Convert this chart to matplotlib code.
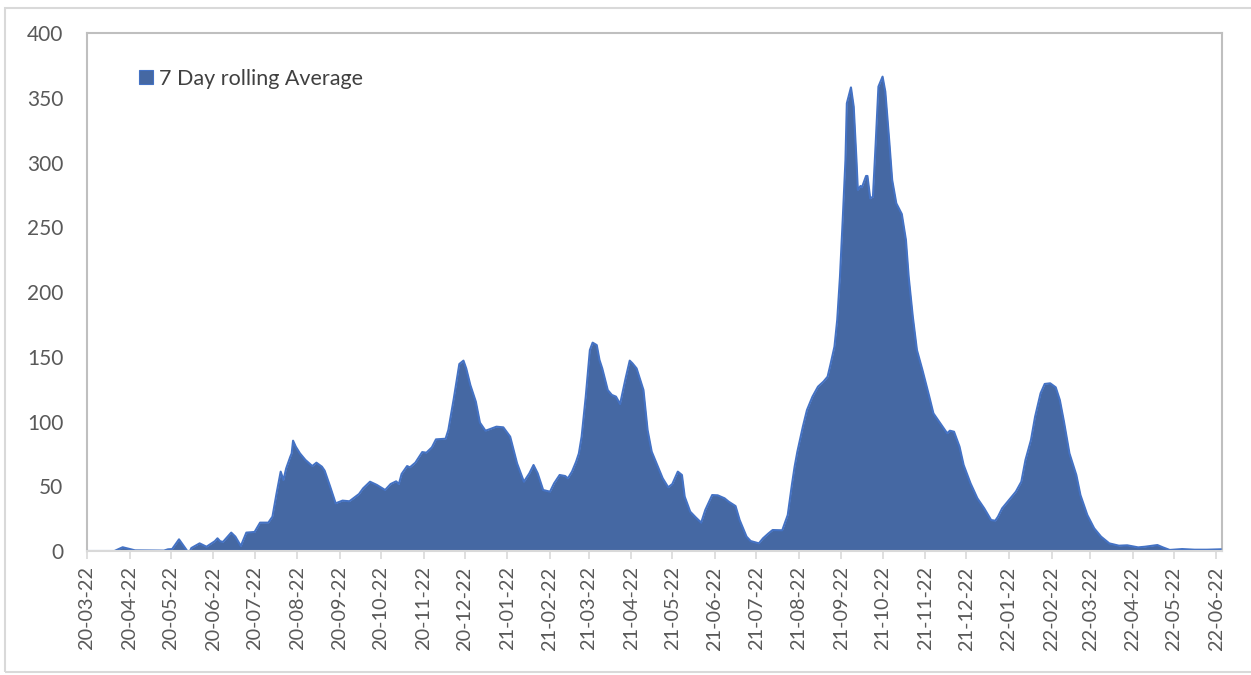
import numpy as np
import pandas as pd
import matplotlib
matplotlib.use("Agg")
import matplotlib.pyplot as plt
import matplotlib.dates as mdates
from matplotlib.patches import Patch, Rectangle

plt.rcParams['font.family'] = ['Lato', 'DejaVu Sans']

# 7天滚动平均
dates = [
    "2020-03-22", "2020-04-11", "2020-04-17", "2020-04-26", "2020-05-17", "2020-05-20",
    "2020-05-23", "2020-05-28", "2020-06-03", "2020-06-05", "2020-06-06", "2020-06-12",
    "2020-06-17", "2020-06-23", "2020-06-25", "2020-06-27", "2020-06-29", "2020-07-05",
    "2020-07-08", "2020-07-12", "2020-07-16", "2020-07-22", "2020-07-26", "2020-08-01",
    "2020-08-04", "2020-08-07", "2020-08-10", "2020-08-12", "2020-08-14", "2020-08-17",
    "2020-08-18", "2020-08-19", "2020-08-21", "2020-08-24", "2020-08-28", "2020-09-02",
    "2020-09-05", "2020-09-09", "2020-09-11", "2020-09-15", "2020-09-19", "2020-09-24",
    "2020-09-29", "2020-10-06", "2020-10-09", "2020-10-14", "2020-10-19", "2020-10-25",
    "2020-10-29", "2020-11-02", "2020-11-04", "2020-11-06", "2020-11-10", "2020-11-12",
    "2020-11-16", "2020-11-21", "2020-11-24", "2020-11-28", "2020-12-01", "2020-12-08",
    "2020-12-10", "2020-12-14", "2020-12-18", "2020-12-21", "2020-12-23", "2020-12-26",
    "2020-12-30", "2021-01-02", "2021-01-06", "2021-01-09", "2021-01-14", "2021-01-19",
    "2021-01-24", "2021-01-29", "2021-02-03", "2021-02-07", "2021-02-10", "2021-02-13",
    "2021-02-17", "2021-02-22", "2021-02-25", "2021-03-01", "2021-03-05", "2021-03-07",
    "2021-03-10", "2021-03-13", "2021-03-15", "2021-03-17", "2021-03-20", "2021-03-23",
    "2021-03-25", "2021-03-28", "2021-03-30", "2021-04-01", "2021-04-05", "2021-04-08",
    "2021-04-11", "2021-04-14", "2021-04-18", "2021-04-21", "2021-04-23", "2021-04-26",
    "2021-05-01", "2021-05-04", "2021-05-07", "2021-05-11", "2021-05-15", "2021-05-19",
    "2021-05-22", "2021-05-26", "2021-05-29", "2021-05-31", "2021-06-04", "2021-06-08",
    "2021-06-12", "2021-06-15", "2021-06-20", "2021-06-24", "2021-06-29", "2021-07-02",
    "2021-07-07", "2021-07-10", "2021-07-15", "2021-07-18", "2021-07-24", "2021-07-27",
    "2021-07-31", "2021-08-03", "2021-08-10", "2021-08-14", "2021-08-17", "2021-08-19",
    "2021-08-21", "2021-08-25", "2021-08-28", "2021-09-01", "2021-09-05", "2021-09-09",
    "2021-09-12", "2021-09-14", "2021-09-17", "2021-09-19", "2021-09-21", "2021-09-23",
    "2021-09-25", "2021-09-26", "2021-09-29", "2021-10-01", "2021-10-03", "2021-10-04",
    "2021-10-06", "2021-10-07", "2021-10-10", "2021-10-11", "2021-10-13", "2021-10-15",
    "2021-10-17", "2021-10-19", "2021-10-22", "2021-10-24", "2021-10-27", "2021-10-29",
    "2021-11-01", "2021-11-05", "2021-11-08", "2021-11-10", "2021-11-13", "2021-11-16",
    "2021-11-20", "2021-11-25", "2021-11-28", "2021-12-03", "2021-12-08", "2021-12-10",
    "2021-12-13", "2021-12-17", "2021-12-20", "2021-12-25", "2021-12-30", "2022-01-04",
    "2022-01-09", "2022-01-12", "2022-01-14", "2022-01-17", "2022-01-22", "2022-01-27",
    "2022-01-31", "2022-02-03", "2022-02-07", "2022-02-10", "2022-02-14", "2022-02-17",
    "2022-02-21", "2022-02-25", "2022-02-28", "2022-03-03", "2022-03-07", "2022-03-12",
    "2022-03-15", "2022-03-20", "2022-03-25", "2022-03-30", "2022-04-05", "2022-04-12",
    "2022-04-18", "2022-04-26", "2022-05-01", "2022-05-10", "2022-05-14", "2022-05-19",
    "2022-05-28", "2022-06-06", "2022-06-15", "2022-06-25",
]
rolling_avg = [
    0, 0, 2.9, 0.5, 0.3, 1.3,
    1.5, 9.0, 0, 0, 2.3, 5.9,
    3.3, 7.5, 9.8, 7.5, 7.0, 14.2,
    11.1, 3.9, 14.2, 14.7, 21.9, 21.9,
    26.5, 44.5, 61.3, 54.8, 63.8, 72.8,
    75.4, 85.2, 80.5, 75.4, 70.3, 65.6,
    68.2, 65.1, 62.0, 49.7, 36.8, 38.9,
    38.4, 44.0, 48.4, 53.5, 51.0, 47.1,
    51.7, 53.8, 51.7, 59.5, 65.6, 64.6,
    68.2, 76.4, 75.9, 80.0, 86.2, 86.7,
    93.4, 117.9, 144.4, 147.0, 141.0, 128.2,
    115.3, 99.1, 92.9, 94.0, 96.0, 95.5,
    88.3, 67.7, 53.5, 60.0, 66.4, 60.0,
    47.1, 45.8, 52.3, 58.7, 57.9, 56.1,
    61.3, 69.0, 75.4, 88.3, 119.2, 155.2,
    160.9, 159.0, 147.5, 141.0, 124.3, 120.5,
    119.2, 113.5, 133.3, 147.0, 144.9, 141.0,
    124.3, 93.4, 76.7, 66.4, 56.1, 49.2,
    51.7, 61.3, 58.7, 42.0, 30.4, 26.0,
    21.9, 31.7, 43.2, 43.0, 40.7, 38.1,
    34.7, 23.9, 11.1, 7.7, 5.9, 9.8,
    13.6, 16.2, 16.0, 27.8, 51.0, 65.1,
    76.7, 96.0, 108.9, 119.2, 126.9, 130.8,
    134.6, 143.6, 157.8, 178.4, 211.8, 255.6,
    301.9, 345.7, 358.0, 343.1, 301.9, 278.8,
    281.9, 280.8, 289.6, 289.6, 272.3, 273.6,
    314.8, 358.6, 366.3, 354.7, 314.8, 286.5,
    268.5, 260.2, 240.2, 211.8, 181.0, 155.2,
    139.8, 119.2, 106.3, 98.6, 90.9, 92.9,
    92.1, 80.6, 66.4, 52.3, 40.7, 32.9,
    23.9, 23.4, 26.5, 32.9, 39.4, 45.8,
    53.5, 70.3, 85.7, 103.7, 121.8, 129.0,
    129.5, 126.4, 116.6, 99.9, 75.4, 58.7,
    43.2, 27.8, 17.5, 11.1, 5.9, 4.1,
    4.4, 2.8, 3.3, 4.6, 2.8, 0.8,
    1.5, 1.0, 1.0, 1.3,
]
series_label = "7 Day rolling Average"
y_ticks = [0, 50, 100, 150, 200, 250, 300, 350, 400]


def plot_rolling_area(save_path="out.png", dpi=100):
    x = pd.to_datetime(dates)
    y = np.array(rolling_avg)

    fig = plt.figure(figsize=(12.51, 6.75), dpi=dpi)
    ax = fig.add_axes([0.0695, 0.1837, 0.9073, 0.7674])

    # 面积图
    ax.fill_between(x, 0, y, color='#4568A3', linewidth=0, zorder=2)
    ax.plot(x, y, color='#4472C4', linewidth=1.5, zorder=3)

    ax.set_xlim(pd.Timestamp("2020-03-22"), pd.Timestamp("2022-06-26"))
    ax.set_ylim(0, 400)
    ax.set_yticks(y_ticks)

    ax.xaxis.set_major_locator(mdates.MonthLocator(bymonthday=22))
    ax.xaxis.set_major_formatter(mdates.DateFormatter('%y-%m-%d'))
    plt.setp(ax.get_xticklabels(), rotation=90)

    ax.tick_params(axis='x', colors='#D9D9D9', labelcolor='#595959',
                   labelsize=14.3, length=6, width=1.2, direction='out', pad=5)
    ax.tick_params(axis='y', length=0, labelcolor='#595959', labelsize=15, pad=17)

    for side in ['left', 'top', 'right']:
        ax.spines[side].set_color('#BFBFBF')
        ax.spines[side].set_linewidth(1.5)
    ax.spines['bottom'].set_color('#D9D9D9')
    ax.spines['bottom'].set_linewidth(1.5)
    ax.spines['bottom'].set_zorder(4)

    handle = Patch(facecolor='#4568A3', edgecolor='#4472C4', linewidth=0.8)
    leg = ax.legend([handle], [series_label], loc='upper left',
                    bbox_to_anchor=(0.038, 0.948), frameon=False,
                    handlelength=0.65, handleheight=0.65, handletextpad=0.3,
                    borderaxespad=0, fontsize=15.5)
    for t in leg.get_texts():
        t.set_color('#404040')

    # 外框
    fig.patches.append(Rectangle((4.5 / 1251, 0.005), 1.0, 1 - 7.5 / 675 - 0.005,
                                 transform=fig.transFigure, fill=False,
                                 edgecolor='#D9D9D9', linewidth=1.5))

    fig.savefig(save_path, dpi=dpi)
    plt.close(fig)
    return fig


if __name__ == "__main__":
    plot_rolling_area("out.png")
